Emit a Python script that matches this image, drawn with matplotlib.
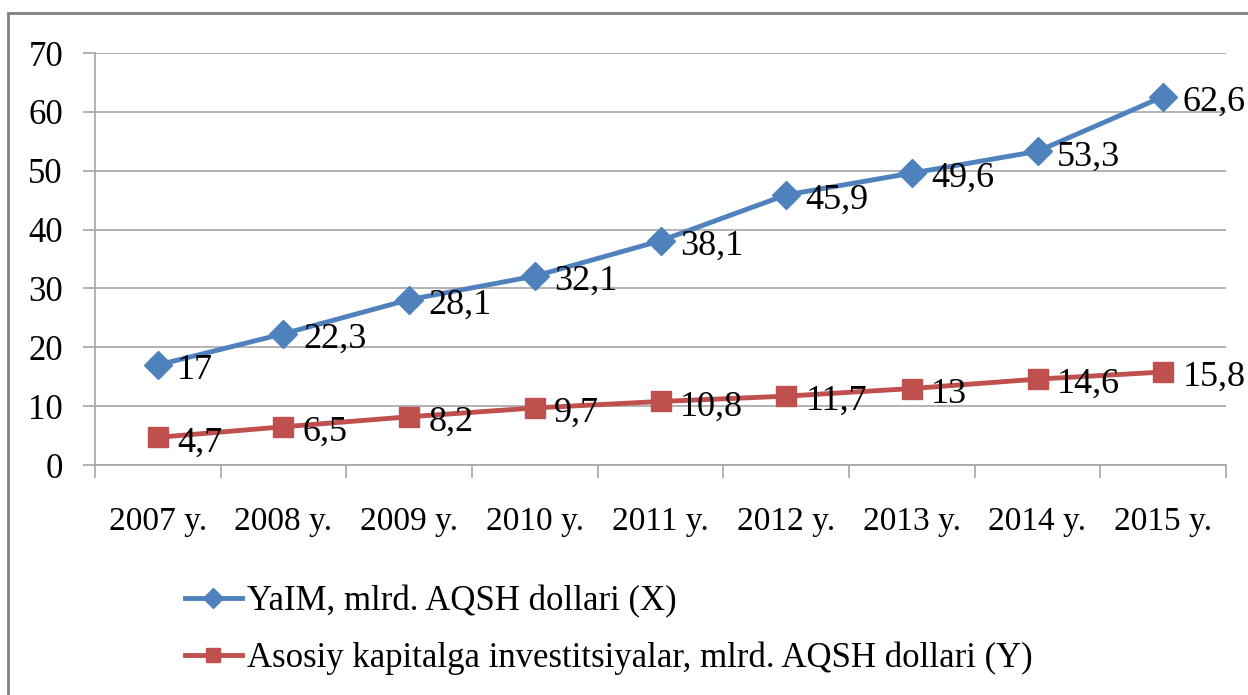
import matplotlib.pyplot as plt
import matplotlib.patches as mpatches
import numpy as np

plt.rcParams['font.family'] = ['Liberation Serif', 'DejaVu Serif']

years = ['2007 y.', '2008 y.', '2009 y.', '2010 y.', '2011 y.',
         '2012 y.', '2013 y.', '2014 y.', '2015 y.']
gdp = [17, 22.3, 28.1, 32.1, 38.1, 45.9, 49.6, 53.3, 62.6]
invest = [4.7, 6.5, 8.2, 9.7, 10.8, 11.7, 13, 14.6, 15.8]
gdp_label = 'YaIM, mlrd. AQSH dollari (X)'
invest_label = 'Asosiy kapitalga investitsiyalar, mlrd. AQSH dollari (Y)'

blue = '#4F81BD'
red = '#C0504D'
grey = '#A6A6A6'


def fmt(v):
    s = ('%g' % v)
    return s.replace('.', ',')


fig = plt.figure(figsize=(12.48, 6.95), dpi=100)
ax = fig.add_axes([0.0761, 0.3309, 0.9063, 0.5928])

x = np.arange(len(years))
ax.plot(x, gdp, color=blue, lw=3.5, marker='D', ms=14, label=gdp_label)
ax.plot(x, invest, color=red, lw=3.5, marker='s', ms=14, label=invest_label)

for xi, v in zip(x, gdp):
    ax.annotate(fmt(v), (xi, v), xytext=(14, -4), textcoords='offset points',
                ha='left', va='center', fontsize=26)
for xi, v in zip(x, invest):
    ax.annotate(fmt(v), (xi, v), xytext=(14, -4), textcoords='offset points',
                ha='left', va='center', fontsize=26)

ax.set_xlim(-0.5, len(years) - 0.5)
ax.set_ylim(0, 70)
ax.set_yticks(range(0, 71, 10))
ax.yaxis.grid(True, color=grey, lw=1.2)
ax.set_axisbelow(True)

ax.set_xticks(x)
ax.set_xticklabels(years)
ax.set_xticks(np.arange(-0.5, len(years), 1), minor=True)
ax.tick_params(axis='x', which='major', length=0, pad=30, labelsize=24)
ax.tick_params(axis='x', which='minor', length=9, width=1.2, color=grey, direction='out')
ax.tick_params(axis='y', length=9, width=1.2, color=grey, pad=14, labelsize=25)

for side in ['top', 'right']:
    ax.spines[side].set_visible(False)
for side in ['left', 'bottom']:
    ax.spines[side].set_color(grey)
    ax.spines[side].set_linewidth(1.2)

fig.legend(loc='upper left', bbox_to_anchor=(0.134, 0.183), frameon=False,
           fontsize=25, handlelength=1.65, handletextpad=0.15, labelspacing=0.68,
           borderpad=0, markerscale=0.75)

# outer chart border (only top and left visible in the crop)
fig.patches.append(mpatches.Rectangle((0.0064, -0.2), 1.5, 0.2 + 0.981,
                                      transform=fig.transFigure, fill=False,
                                      edgecolor='#808080', lw=2))

plt.savefig('out.png', dpi=100)
